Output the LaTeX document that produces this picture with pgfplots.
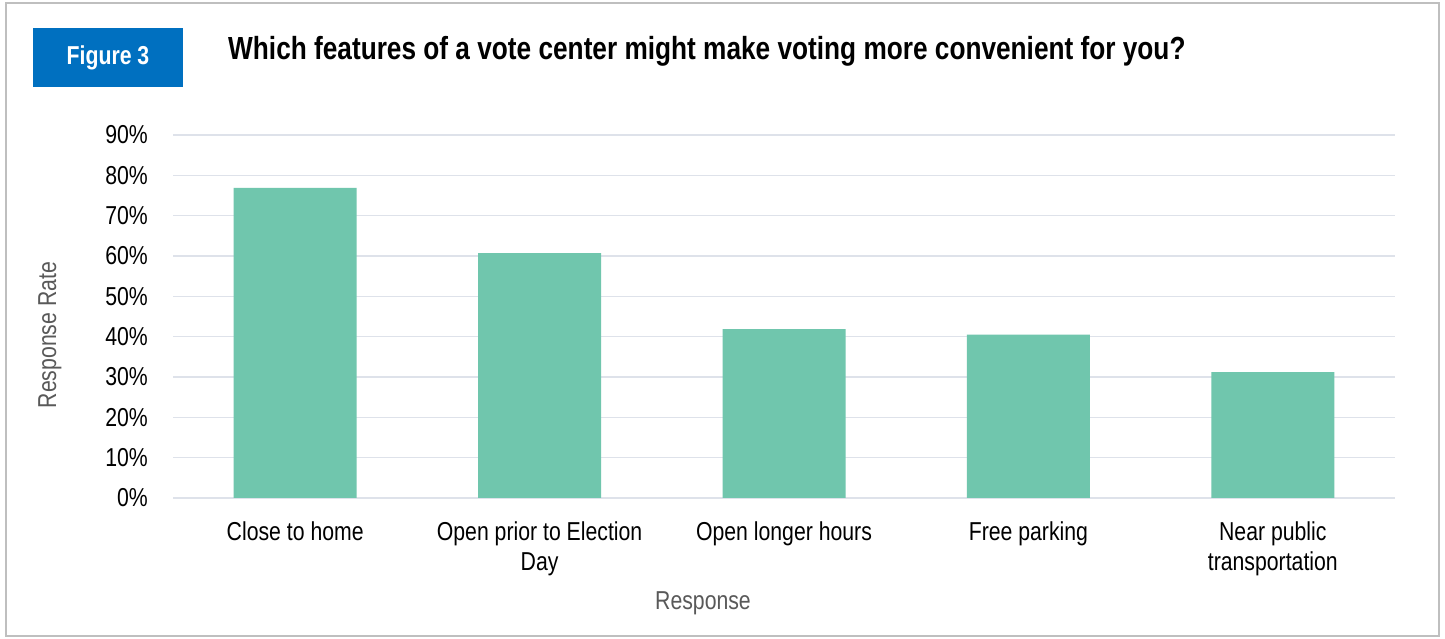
\documentclass[border=0pt]{standalone}
\usepackage{fontspec}
\setmainfont{Liberation Sans}[FakeStretch=0.82]
\usepackage{pgfplots}
\pgfplotsset{compat=1.18}
\definecolor{barc}{RGB}{112,198,173}
\definecolor{gridc}{RGB}{222,226,234}
\definecolor{figblue}{RGB}{0,112,192}
\definecolor{labgray}{RGB}{89,89,89}
\definecolor{framec}{RGB}{191,191,191}
\begin{document}
\begin{tikzpicture}[x=1bp,y=1bp]
\path[fill=white] (0,0) rectangle (1445,639);
\draw[framec, line width=2bp] (6,3) rectangle (1439,636);
\fill[figblue] (33,552) rectangle (183,611);
\node[white, inner sep=0pt, font=\bfseries\fontsize{26}{30}\selectfont, anchor=base] at (108,574) {Figure 3};
\node[anchor=base west, inner sep=0pt, font=\bfseries\fontsize{32.1}{36}\selectfont] at (228,579) {Which features of a vote center might make voting more convenient for you?};
\begin{axis}[
  at={(173bp,141bp)}, anchor=south west, scale only axis,
  width=1222bp, height=363bp,
  ymin=0, ymax=90, xmin=-0.5, xmax=4.5,
  axis line style={draw=none},
  major tick length=0pt,
  ytick={0,10,20,30,40,50,60,70,80,90},
  yticklabels={0\%,10\%,20\%,30\%,40\%,50\%,60\%,70\%,80\%,90\%},
  xtick={0,1,2,3,4},
  xticklabels={Close to home,{Open prior to Election\\Day},Open longer hours,Free parking,{Near public\\transportation}},
  ymajorgrids, grid style={gridc, line width=1.5bp},
  yticklabel style={anchor=east, inner sep=0pt, xshift=-25bp, font=\fontsize{26}{30}\selectfont, text=black},
  xticklabel style={anchor=north, inner sep=0pt, yshift=-24bp, align=center, font=\fontsize{26}{30}\selectfont, text=black},
  xlabel={Response}, ylabel={Response Rate},
  every axis x label/.style={at={(rel axis cs:0.4337,-0.290)}, anchor=center, font=\fontsize{26}{30}\selectfont, text=labgray},
  every axis y label/.style={at={(rel axis cs:-0.1007,0.449)}, anchor=center, rotate=90, font=\fontsize{26}{30}\selectfont, text=labgray},
  clip=false,
]
\addplot[ybar, fill=barc, draw=none, bar width=123bp] coordinates {(0,76.9)(1,60.7)(2,41.9)(3,40.5)(4,31.2)};
\end{axis}
\end{tikzpicture}
\end{document}
